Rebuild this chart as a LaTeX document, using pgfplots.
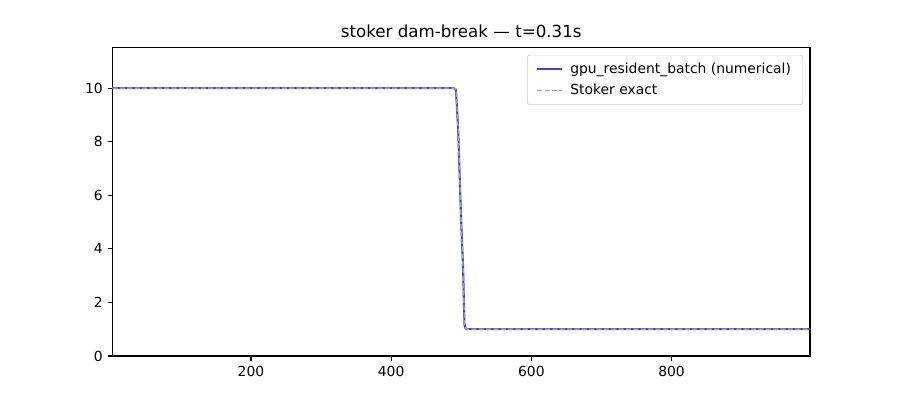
\documentclass[border=0pt]{standalone}
\usepackage{fontspec}
\setmainfont{DejaVu Sans}
\usepackage{pgfplots}
\pgfplotsset{compat=1.18}
\definecolor{numblue}{RGB}{72,62,212}
\definecolor{exgray}{RGB}{160,160,160}
\definecolor{legframe}{RGB}{204,204,204}
\begin{document}
\begin{tikzpicture}
\begin{axis}[
  at={(0pt,0pt)}, anchor=south west,
  scale only axis, width=502.2pt, height=221.8pt,
  xmin=2.5, xmax=997.5, ymin=0, ymax=11.5,
  xtick={200,400,600,800}, ytick={0,2,4,6,8,10},
  tick align=outside, tick pos=left,
  major tick length=3.5pt,
  every tick/.style={black, line width=0.8pt},
  axis line style={line width=0.8pt},
  /pgf/number format/assume math mode=true,
  tick label style={font=\fontsize{10}{12}\selectfont},
  title={stoker dam-break — t=0.31s},
  title style={font=\fontsize{12}{14}\selectfont, yshift=-2pt},
  legend style={at={(rel axis cs:1,1)}, anchor=north east, xshift=-5pt, yshift=-5pt,
    draw=legframe, rounded corners=2pt, font=\fontsize{10}{12}\selectfont,
    row sep=2.5pt, inner xsep=6.5pt, inner ysep=3.5pt},
  legend cell align=left,
  legend image code/.code={\draw[#1] (0pt,0pt) -- (18pt,0pt); \path (21pt,0pt);},
]
\addplot[numblue, line width=1.5pt, line join=round] coordinates {
 (2.5,10) (488.2,10) (491.5,9.97) (492.5,9.92) (495.6,8.45) (499.8,5.08) (502.6,3.3) (504.6,1.16) (506.2,1.03) (507.8,1.0) (997.5,1.0)
};
\addlegendentry{gpu\_resident\_batch (numerical)}
\addplot[exgray, line width=1pt, dash pattern=on 3.7pt off 1.6pt] coordinates {
 (2.5,10) (488.2,10) (491.5,9.97) (492.5,9.92) (495.6,8.45) (499.8,5.08) (502.6,3.3) (504.6,1.16) (506.2,1.03) (507.8,1.0) (997.5,1.0)
};
\addlegendentry{Stoker exact}
\end{axis}
\path[use as bounding box] (-81pt,-31.7pt) rectangle (567pt,256.3pt);
\end{tikzpicture}
\end{document}
